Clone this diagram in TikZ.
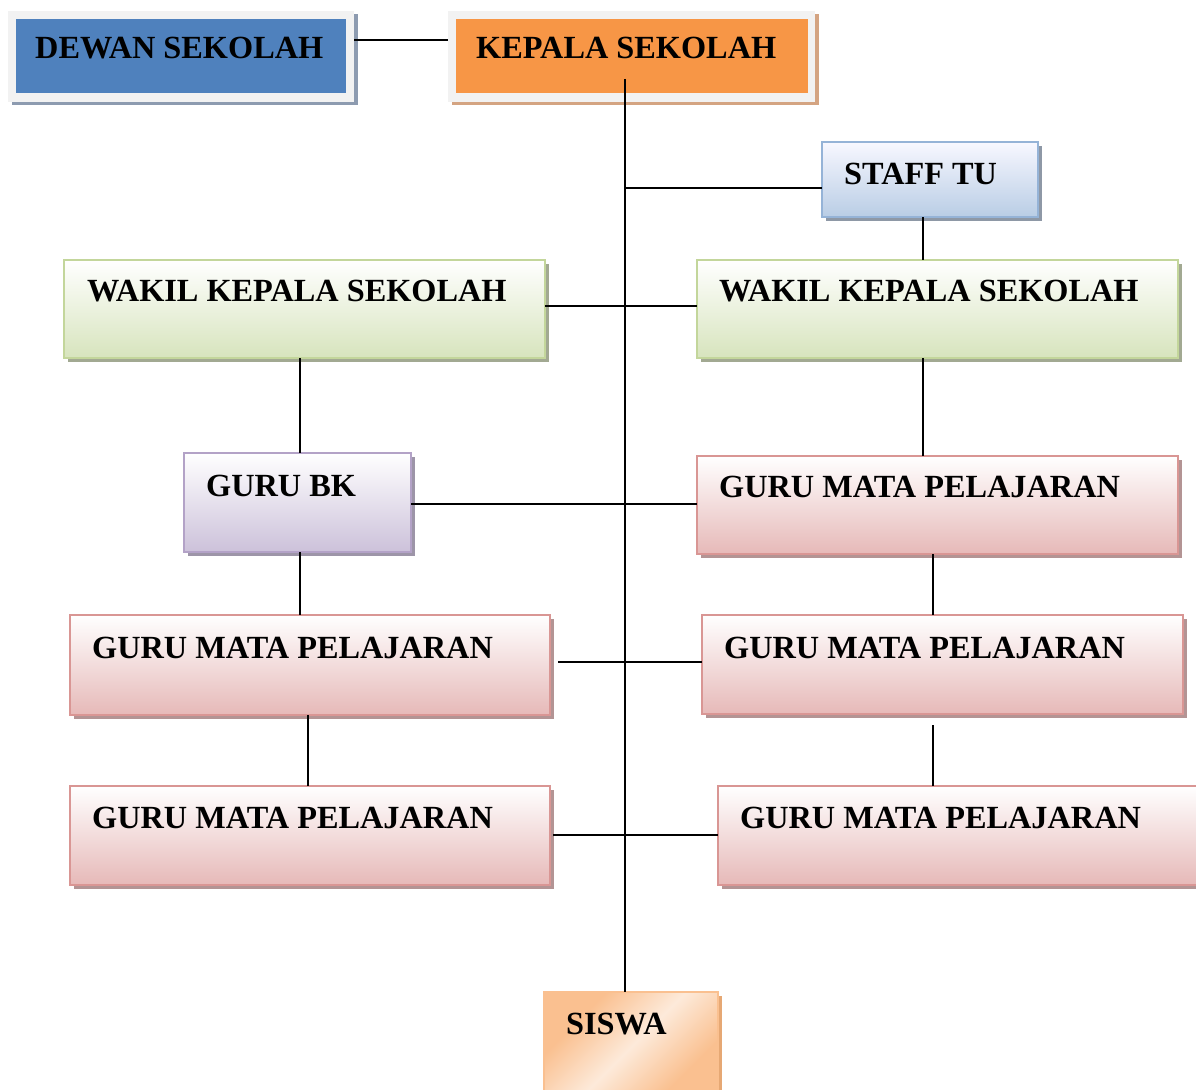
\documentclass[tikz,border=0pt]{standalone}
\usepackage{fontspec}
\setmainfont{Liberation Serif}
\usetikzlibrary{calc,shadows}
\definecolor{frameg}{HTML}{F2F2F2}
\definecolor{dewanblue}{HTML}{4F81BD}
\definecolor{dewanshadow}{HTML}{8D9BB0}
\definecolor{kepor}{HTML}{F79646}
\definecolor{kepshadow}{HTML}{D4A482}
\definecolor{grnb}{HTML}{C3D69B}
\definecolor{grnbot}{HTML}{D7E4BD}
\definecolor{grnsh}{HTML}{A2A992}
\definecolor{pnkb}{HTML}{D99694}
\definecolor{pnkbot}{HTML}{E6B9B8}
\definecolor{pnksh}{HTML}{B39494}
\definecolor{blub}{HTML}{95B3D7}
\definecolor{blubot}{HTML}{B9CDE5}
\definecolor{blush}{HTML}{8E98A6}
\definecolor{purb}{HTML}{B3A2C7}
\definecolor{purbot}{HTML}{CCC1DA}
\definecolor{pursh}{HTML}{9D95A8}
\definecolor{siswab}{HTML}{FAC090}
\definecolor{siswain}{HTML}{FDEADA}
\definecolor{siswash}{HTML}{E6A874}
\pgfdeclarehorizontalshading{siswashade}{100bp}{color(0bp)=(siswab); color(30bp)=(siswab); color(50bp)=(siswain); color(70bp)=(siswab); color(100bp)=(siswab)}
\tikzset{
  box/.style={anchor=north west, inner sep=0pt, outer sep=0pt, line width=1.5pt},
  shad/.style={drop shadow={shadow xshift=3.5pt, shadow yshift=-3.5pt, fill=#1, opacity=1}},
  grnbox/.style={box, draw=grnb, top color=white, bottom color=grnbot, shad=grnsh},
  pnkbox/.style={box, draw=pnkb, top color=white, bottom color=pnkbot, shad=pnksh},
  blubox/.style={box, draw=blub, top color=blue!3!white, bottom color=blubot, shad=blush},
  purbox/.style={box, draw=purb, top color=white, bottom color=purbot, shad=pursh},
  txt/.style={font=\bfseries\fontsize{32.3}{36}\selectfont, anchor=base west, inner sep=0pt},
  conn/.style={draw=black, line width=1.6pt}
}
\begin{document}
\begin{tikzpicture}[x=1pt,y=-1pt]
\useasboundingbox (0,0) rectangle (1196,1089);
\clip (0,0) rectangle (1196,1089);
\fill[white] (0,0) rectangle (1196,1089);

% top boxes
\node[box, fill=frameg, minimum width=346pt, minimum height=91pt, shad=dewanshadow] (dewanout) at (8,11) {};
\node[box, fill=dewanblue, minimum width=330pt, minimum height=74pt] (dewan) at (16,19) {};
\node[txt] (tdewan) at (35,59) {DEWAN SEKOLAH};

\node[box, fill=frameg, minimum width=367pt, minimum height=91pt, shad=kepshadow] (kepout) at (448,11) {};
\node[box, fill=kepor, minimum width=352pt, minimum height=74pt] (kepala) at (456,19) {};
\node[txt] (tkepala) at (476,59) {KEPALA SEKOLAH};

% staff
\node[blubox, minimum width=216pt, minimum height=75pt] (staff) at (822,142) {};
\node[txt] (tstaff) at (844,184) {STAFF TU};

% wakil
\node[grnbox, minimum width=481pt, minimum height=98pt] (wkl) at (64,260) {};
\node[txt] (twkl) at (87,301) {WAKIL KEPALA SEKOLAH};
\node[grnbox, minimum width=481pt, minimum height=98pt] (wkr) at (697,260) {};
\node[txt] (twkr) at (719,301) {WAKIL KEPALA SEKOLAH};

% guru bk
\node[purbox, minimum width=227pt, minimum height=99pt] (bk) at (184,453) {};
\node[txt] (tbk) at (206,496) {GURU BK};

% guru mata pelajaran
\node[pnkbox, minimum width=481pt, minimum height=98pt] (r1) at (697,456) {};
\node[txt] (tr1) at (719,497) {GURU MATA PELAJARAN};
\node[pnkbox, minimum width=480pt, minimum height=100pt] (l1) at (70,615) {};
\node[txt] (tl1) at (92,658) {GURU MATA PELAJARAN};
\node[pnkbox, minimum width=481pt, minimum height=99pt] (r2) at (702,615) {};
\node[txt] (tr2) at (724,658) {GURU MATA PELAJARAN};
\node[pnkbox, minimum width=480pt, minimum height=99pt] (l3) at (70,786) {};
\node[txt] (tl3) at (92,828) {GURU MATA PELAJARAN};
\node[pnkbox, minimum width=481pt, minimum height=99pt] (r3) at (718,786) {};
\node[txt] (tr3) at (740,828) {GURU MATA PELAJARAN};

% siswa
\node[box, draw=siswab, shading=siswashade, shading angle=-45, minimum width=174pt, minimum height=110pt, shad=siswash] (siswa) at (544,992) {};
\node[txt] (tsiswa) at (566,1034) {SISWA};

% connectors
\coordinate (ktop) at (625,79);
\draw[conn] (dewanout.east |- 0,40) -- (kepout.west |- 0,40);
\draw[conn] (ktop) -- (ktop |- siswa.north);
\draw[conn] (ktop |- 0,188) -- (staff.west |- 0,188);
\draw[conn] (staff.south -| 923,0) -- (wkr.north -| 923,0);
\draw[conn] (wkl.east |- 0,306) -- (wkr.west |- 0,306);
\draw[conn] (wkl.south -| 300,0) -- (bk.north -| 300,0);
\draw[conn] (bk.east |- 0,504) -- (r1.west |- 0,504);
\draw[conn] (wkr.south -| 923,0) -- (r1.north -| 923,0);
\draw[conn] (bk.south -| 300,0) -- (l1.north -| 300,0);
\draw[conn] (r1.south -| 933,0) -- (r2.north -| 933,0);
\coordinate (g1) at (558,662);
\draw[conn] (g1) -- (r2.west |- g1);
\draw[conn] (l1.south -| 308,0) -- (l3.north -| 308,0);
\coordinate (g2) at (933,725);
\draw[conn] (g2) -- (r3.north -| g2);
\coordinate (g3) at (553,835);
\draw[conn] (g3) -- (r3.west |- g3);
\end{tikzpicture}
\end{document}
